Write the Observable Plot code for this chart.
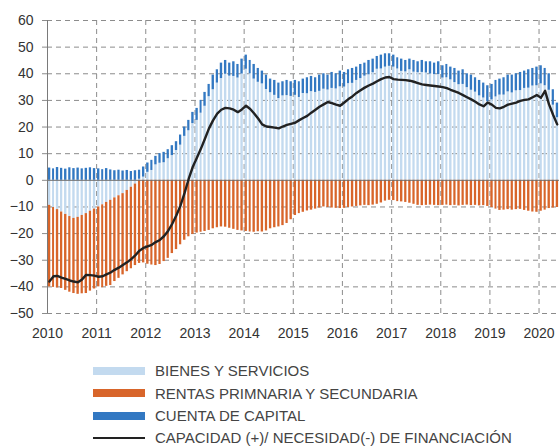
<!DOCTYPE html>
<html>
<head>
<meta charset="utf-8">
<script src="https://cdn.jsdelivr.net/npm/d3@7"></script>
<script src="https://cdn.jsdelivr.net/npm/@observablehq/plot@0.6"></script>
<style>
  html, body { margin: 0; padding: 0; background: #fff; }
  #wrap { width: 559px; height: 446px; overflow: hidden; font-family: "Liberation Sans", Arial, sans-serif; }
  #legend { position: relative; width: 559px; height: 101px; font-size: 15px; color: #444; }
  .row { position: absolute; left: 93px; height: 22px; display: flex; align-items: center; white-space: nowrap; }
  .sw { width: 52px; margin-right: 10px; }
</style>
</head>
<body>
<div id="wrap">
  <div id="chart"></div>
  <div id="legend"></div>
</div>
<script>
// Monthly data, January 2010 – May 2020
const startYear = 2010;
const yearTicks = [2010, 2011, 2012, 2013, 2014, 2015, 2016, 2017, 2018, 2019, 2020];
const yTicks = [-50, -40, -30, -20, -10, 0, 10, 20, 30, 40, 50, 60];

const seriesNames = ["BIENES Y SERVICIOS", "RENTAS PRIMNARIA Y SECUNDARIA", "CUENTA DE CAPITAL", "CAPACIDAD (+)/ NECESIDAD(-) DE FINANCIACIÓN"];
const seriesColors = ["#c3daef", "#d8652a", "#3278c2", "#222222"];

const bienes = [
  -9.4,-10.2,-11.0,-11.9,-12.8,-13.6,-14.3,-13.9,-13.2,-12.5,-11.6,-10.8,
  -10.0,-9.2,-8.3,-7.5,-6.6,-5.8,-5.0,-3.8,-2.6,-1.4,0.4,1.2,
  3.0,3.7,5.8,6.4,6.6,8.1,9.3,11.2,13.2,16.5,18.6,21.3,
  22.5,25.2,27.8,31.4,34.0,36.5,38.2,39.8,39.1,39.0,38.4,39.9,
  41.7,40.0,38.0,36.8,36.2,34.1,32.9,31.9,30.7,31.7,31.8,31.5,
  31.9,31.1,32.6,32.5,33.3,33.0,33.4,34.2,33.9,34.5,34.3,35.1,
  35.0,36.3,36.4,37.5,38.2,39.1,39.6,40.4,41.7,41.8,42.5,42.8,
  42.5,41.8,40.9,40.7,41.5,40.6,40.4,40.5,40.3,39.9,39.7,39.7,
  38.4,38.5,37.7,36.7,35.9,36.0,34.8,33.8,33.1,31.7,30.9,29.5,
  30.2,31.3,32.0,32.0,33.2,32.8,33.6,33.7,34.5,34.6,35.4,35.5,
  36.2,35.5,33.8,28.2,23.5
];
const rentas = [
  -30.6,-30.0,-29.4,-28.7,-28.5,-28.4,-28.2,-28.9,-29.4,-30.0,-30.0,-30.0,
  -30.0,-31.1,-31.5,-32.0,-31.4,-31.0,-30.5,-30.5,-30.6,-30.6,-31.2,-31.0,
  -31.5,-31.8,-32.0,-31.6,-30.5,-29.3,-27.5,-26.0,-24.2,-22.5,-21.2,-20.3,
  -19.8,-19.5,-19.2,-18.8,-18.2,-17.8,-17.5,-17.6,-18.0,-18.4,-18.8,-19.0,
  -19.2,-19.4,-19.5,-19.3,-19.4,-19.0,-18.2,-17.8,-17.5,-17.0,-16.2,-14.8,
  -13.2,-12.5,-12.0,-11.5,-11.2,-10.8,-10.4,-10.0,-10.2,-10.4,-10.5,-10.6,
  -10.5,-10.2,-10.0,-9.8,-9.6,-9.4,-9.5,-9.3,-9.0,-8.5,-7.8,-7.5,
  -7.6,-8.0,-8.1,-8.3,-8.6,-9.0,-9.4,-9.5,-9.4,-9.3,-9.4,-9.5,
  -9.4,-9.3,-9.5,-9.4,-9.6,-9.4,-9.3,-9.5,-9.4,-9.6,-9.5,-9.8,
  -10.2,-10.8,-11.3,-11.2,-11.0,-11.2,-11.0,-10.9,-11.3,-11.6,-11.9,-12.0,
  -11.6,-11.2,-10.6,-10.4,-10.2
];
const capital = [
  4.6,4.3,4.8,4.5,4.2,4.7,4.4,4.6,4.3,4.5,4.7,4.4,
  4.3,4.0,4.4,3.9,3.6,3.8,3.5,3.7,3.3,3.6,3.4,3.8,
  3.5,3.8,3.2,3.6,3.9,3.4,3.7,3.3,3.8,3.5,3.9,4.2,
  4.5,4.8,5.2,4.6,5.5,5.0,5.8,5.2,4.9,5.5,5.1,5.6,
  5.3,5.0,5.5,5.2,4.8,5.4,5.1,5.6,5.8,5.3,5.7,5.5,
  5.6,5.9,5.4,6.0,5.7,5.5,6.1,5.8,5.6,6.0,5.7,5.9,
  5.5,5.2,5.6,5.0,5.3,4.9,5.4,5.1,4.8,5.2,5.0,4.7,
  4.5,4.2,4.6,4.3,4.0,4.4,4.1,4.5,4.2,4.6,4.3,4.8,
  4.6,5.0,4.8,5.3,5.1,5.5,5.2,5.7,5.4,5.8,5.6,6.0,
  5.8,6.2,6.0,6.5,6.3,6.7,6.4,6.8,6.5,6.9,6.6,7.0,
  6.8,6.5,6.2,5.8,5.5
];
const capacidad = [
  -38.0,-36.0,-35.9,-36.5,-37.0,-37.6,-38.0,-38.3,-37.2,-35.5,-35.6,-35.8,
  -36.2,-36.0,-35.3,-34.6,-33.6,-32.8,-31.8,-30.8,-29.6,-28.2,-26.4,-25.4,
  -24.8,-24.2,-23.2,-22.4,-21.0,-19.0,-16.4,-13.2,-9.5,-4.8,0.5,5.0,
  8.5,12.0,15.5,19.5,22.5,25.0,26.5,27.2,27.0,26.5,25.6,26.6,
  28.0,26.8,25.2,23.2,21.0,20.2,20.0,19.8,19.5,20.2,20.8,21.2,
  21.6,22.6,23.4,24.2,25.4,26.5,27.6,28.5,29.4,29.0,28.4,28.0,
  29.2,30.5,31.5,32.8,33.8,34.8,35.6,36.3,37.2,38.0,38.6,38.8,
  38.0,37.8,37.7,37.6,37.4,37.0,36.5,36.0,35.8,35.6,35.4,35.2,
  35.0,34.6,34.0,33.4,32.8,32.0,31.2,30.4,29.5,28.5,27.8,29.2,
  28.4,27.2,27.0,27.6,28.4,28.8,29.2,29.8,30.2,30.4,31.2,32.0,
  31.0,33.6,28.5,24.5,21.0
];

// Build stacked rectangles (positives and negatives stacked separately)
const bars = [];
const lineData = [];
const bySeries = [bienes, rentas, capital];
for (let i = 0; i < bienes.length; i++) {
  const x1 = new Date(Date.UTC(startYear, i, 1));
  const x2 = new Date(Date.UTC(startYear, i + 1, 1));
  let pos = 0, neg = 0;
  for (let s = 0; s < 3; s++) {
    const v = bySeries[s][i];
    if (v >= 0) { bars.push({x1, x2, y1: pos, y2: pos + v, series: seriesNames[s]}); pos += v; }
    else { bars.push({x1, x2, y1: neg, y2: neg + v, series: seriesNames[s]}); neg += v; }
  }
  lineData.push({date: new Date(Date.UTC(startYear, i, 15)), value: capacidad[i]});
}

const yearDates = yearTicks.map(y => new Date(Date.UTC(y, 0, 1)));
const gridY = yTicks.filter(v => v !== 0);

const chart = Plot.plot({
  width: 559,
  height: 345,
  marginLeft: 47,
  marginRight: 0,
  marginTop: 20,
  marginBottom: 32,
  style: {fontFamily: "'Liberation Sans', Arial, sans-serif", fontSize: "14px", color: "#333", background: "#fff"},
  x: {type: "utc", domain: [new Date(Date.UTC(2010, 0, 1)), new Date(Date.UTC(2020, 5, 1))]},
  y: {domain: [-50, 60]},
  color: {domain: seriesNames.slice(0, 3), range: seriesColors.slice(0, 3)},
  marks: [
    Plot.ruleY(gridY, {stroke: "#8c8c8c", strokeDasharray: "5,4", strokeWidth: 1}),
    Plot.ruleX(yearDates.slice(1), {stroke: "#8c8c8c", strokeDasharray: "5,4", strokeWidth: 1}),
    Plot.rect(bars, {x1: "x1", x2: "x2", y1: "y1", y2: "y2", fill: "series", insetLeft: 0.9, insetRight: 0.9}),
    Plot.ruleY([0], {stroke: "#6e6e6e", strokeWidth: 1}),
    Plot.ruleX([yearDates[0]], {stroke: "#7a7a7a", strokeWidth: 1}),
    Plot.lineY(lineData, {x: "date", y: "value", stroke: seriesColors[3], strokeWidth: 2.4}),
    Plot.axisY(yTicks, {tickSize: 5, tickPadding: 9, stroke: "#8c8c8c", fill: "#333", label: null}),
    Plot.axisX(yearDates, {tickSize: 0, tickPadding: 15, tickFormat: d3.utcFormat("%Y"), fill: "#333", label: null})
  ]
});
document.getElementById("chart").appendChild(chart);

// Legend below the chart
const legend = document.getElementById("legend");
const tops = [14.5, 37, 59.5, 81.5];
seriesNames.forEach((name, i) => {
  const row = document.createElement("div");
  row.className = "row";
  row.style.top = tops[i] + "px";
  const sw = document.createElement("div");
  sw.className = "sw";
  sw.style.height = i === 3 ? "2px" : "8px";
  sw.style.background = seriesColors[i];
  const label = document.createElement("span");
  label.textContent = name;
  row.appendChild(sw);
  row.appendChild(label);
  legend.appendChild(row);
});
</script>
</body>
</html>
